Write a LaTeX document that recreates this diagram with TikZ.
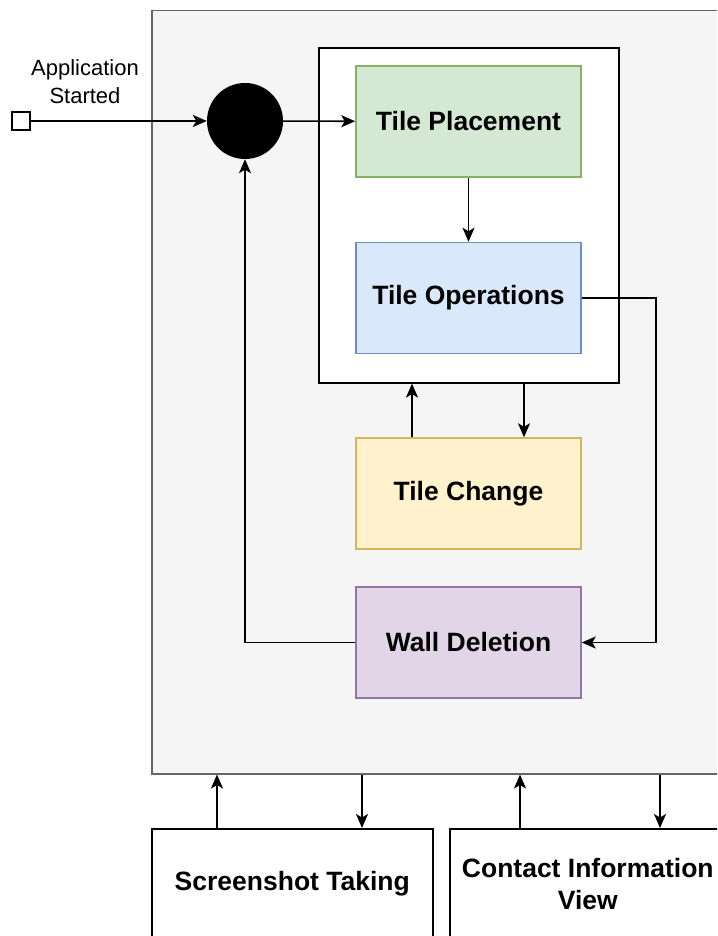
\documentclass[tikz,border=0pt]{standalone}
\usepackage{fontspec}
\setmainfont{Liberation Sans}
\usetikzlibrary{arrows.meta,positioning}
\definecolor{appfill}{HTML}{F5F5F5}
\definecolor{appline}{HTML}{666666}
\definecolor{greenfill}{HTML}{D5E8D4}
\definecolor{greenline}{HTML}{82B366}
\definecolor{bluefill}{HTML}{DAE8FC}
\definecolor{blueline}{HTML}{6C8EBF}
\definecolor{yellowfill}{HTML}{FFF2CC}
\definecolor{yellowline}{HTML}{D6B656}
\definecolor{purplefill}{HTML}{E1D5E7}
\definecolor{purpleline}{HTML}{9673A6}
\tikzset{
  tilebox/.style 2 args={draw=#1,fill=#2,line width=1.5pt,minimum width=225pt,minimum height=111pt,
    font=\fontsize{26.5}{32}\selectfont\bfseries},
  plainbox/.style={draw,fill=white,line width=1.6pt,anchor=north west,align=center,
    font=\fontsize{26.5}{32}\selectfont\bfseries},
  flow/.style={line width=1.6pt,-{Stealth[length=14pt,width=12pt,inset=3.5pt]}}
}

\begin{document}
\begin{tikzpicture}[x=1pt,y=-1pt]
    \useasboundingbox (0,0) rectangle (717,936);
    \clip (0,0) rectangle (717,936);

    % application frame
    \node[draw=appline,fill=appfill,line width=1.5pt,anchor=north west,minimum width=600pt,minimum height=763pt] (app) at (151,10) {};
    \node[draw,fill=white,line width=1.6pt,anchor=north west,minimum width=300pt,minimum height=335pt] (inner) at (318,47) {};

    % start
    \node[draw,fill=white,line width=1.6pt,minimum size=18pt,inner sep=0pt] (start) at (21,121) {};
    \node[align=center,font=\fontsize{22}{28}\selectfont] (startlabel) at (85,82) {Application\\Started};
    \node[circle,fill=black,minimum size=76pt,inner sep=0pt] (dot) at (245,121) {};

    % tiles
    \node[tilebox={greenline}{greenfill}] (place) at (468.5,121.5) {Tile Placement};
    \node[tilebox={blueline}{bluefill}] (ops) at (468.5,298) {Tile Operations};
    \node[tilebox={yellowline}{yellowfill}] (change) at (468.5,493.5) {Tile Change};
    \node[tilebox={purpleline}{purplefill}] (wall) at (468.5,642.5) {Wall Deletion};

    % outside views
    \node[plainbox,minimum width=281pt,minimum height=110pt] (shot) at (151,828) {Screenshot Taking};
    \node[plainbox,minimum width=276pt,minimum height=110pt] (contact) at (449,828) {Contact Information\\View};

    % connectors
    \draw[flow] (start) -- (dot);
    \draw[flow] (dot) -- (place);
    \draw[flow] (place) -- (ops);
    \draw[flow] (ops.east) -- ++(74,0) |- (wall.east);
    \draw[flow] (wall.west) -| (dot.south);
    \draw[flow] (412,0 |- change.north) -- (412,0 |- inner.south);
    \draw[flow] (524,0 |- inner.south) -- (524,0 |- change.north);
    \draw[flow] (217,0 |- shot.north) -- (217,0 |- app.south);
    \draw[flow] (362,0 |- app.south) -- (362,0 |- shot.north);
    \draw[flow] (520,0 |- contact.north) -- (520,0 |- app.south);
    \draw[flow] (660,0 |- app.south) -- (660,0 |- contact.north);
  \end{tikzpicture}
\end{document}
